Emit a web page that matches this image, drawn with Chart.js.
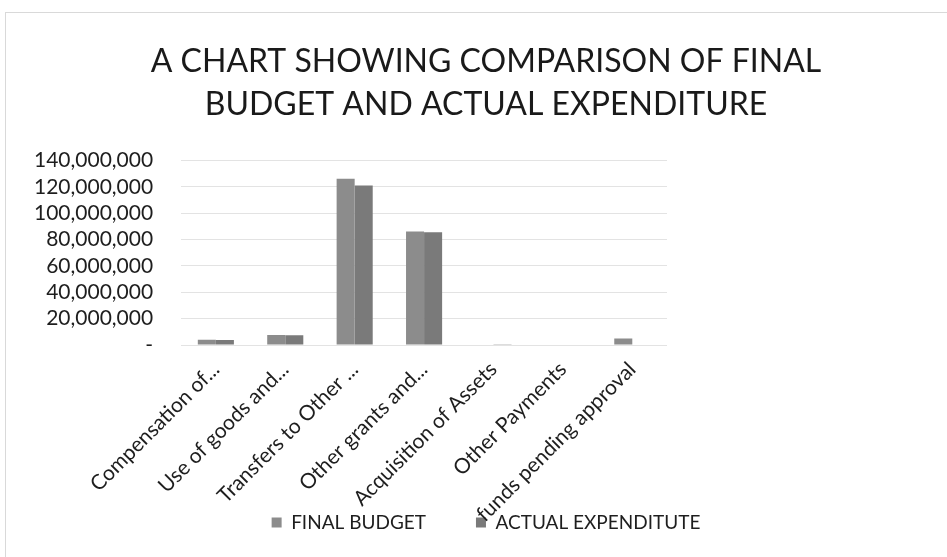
<!DOCTYPE html>
<html>
<head>
<meta charset="utf-8">
<script src="https://cdn.jsdelivr.net/npm/chart.js@4.4.1/dist/chart.umd.min.js"></script>
<style>
  html, body { margin: 0; padding: 0; background: #fff; overflow: hidden; }
  #wrap {
    position: absolute; left: 5px; top: 12px; width: 960px; height: 545px;
    border-left: 1px solid #d9d9d9; border-top: 1px solid #d9d9d9;
  }
</style>
</head>
<body>
<div id="wrap"><canvas id="myBarChart"></canvas></div>
<script>
// datos del gráfico
var categories = [
  "Compensation of...",
  "Use of goods and...",
  "Transfers to Other ...",
  "Other grants and...",
  "Acquisition of Assets",
  "Other Payments",
  "funds pending approval"
];
var finalBudget = [4000000, 7600000, 126000000, 86000000, 300000, 0, 5000000];
var actualExpenditure = [3800000, 7400000, 121000000, 85500000, 200000, 0, 0];
var yTicks = [0, 20000000, 40000000, 60000000, 80000000, 100000000, 120000000, 140000000];

Chart.defaults.font.family = 'Lato, "Open Sans", sans-serif';
Chart.defaults.color = "#1e1e1e";

function number_format(v) {
  if (v === 0) return "-";
  return v.toString().replace(/\B(?=(\d{3})+(?!\d))/g, ",");
}

// las etiquetas largas del eje x pueden pisar la leyenda (como en Excel)
var sinRecorte = {
  id: "sinRecorte",
  afterLayout: function (chart) {
    chart.scales.x.bottom = chart.height;
  },
};

var ctx = document.getElementById("myBarChart").getContext("2d");
var myBarChart = new Chart(ctx, {
  type: "bar",
  data: {
    labels: categories,
    datasets: [
      {
        label: "FINAL BUDGET",
        backgroundColor: "#8c8c8c",
        data: finalBudget,
      },
      {
        label: "ACTUAL EXPENDITUTE",
        backgroundColor: "#7a7a7a",
        data: actualExpenditure,
      },
    ],
  },
  plugins: [sinRecorte],
  options: {
    responsive: true,
    maintainAspectRatio: false,
    animation: false,
    layout: {
      padding: { left: 0, right: 0, top: 27, bottom: 16 },
    },
    datasets: {
      bar: { categoryPercentage: 0.52, barPercentage: 1.0 },
    },
    scales: {
      x: {
        grid: { display: false },
        border: { display: false },
        ticks: {
          autoSkip: false,
          maxRotation: 45,
          minRotation: 45,
          font: { size: 21 },
          color: "#1e1e1e",
          padding: 4,
        },
        afterFit: function (scale) {
          scale.height = 118;
        },
      },
      y: {
        min: 0,
        max: 140000000,
        afterBuildTicks: function (scale) {
          scale.ticks = yTicks.map(function (v) { return { value: v }; });
        },
        grid: { color: "#e3e3e3", drawTicks: false },
        border: { display: false },
        ticks: {
          autoSkip: false,
          font: { size: 21 },
          color: "#1e1e1e",
          padding: 28,
          callback: function (value) {
            return number_format(value);
          },
        },
      },
      // eje vacío para dejar el hueco de la derecha
      espacio: {
        type: "linear",
        position: "right",
        grid: { display: false },
        border: { display: false },
        ticks: { display: false },
        afterFit: function (scale) {
          scale.width = 299;
        },
      },
    },
    plugins: {
      title: {
        display: true,
        text: ["A CHART SHOWING COMPARISON OF FINAL", "BUDGET AND ACTUAL EXPENDITURE"],
        font: { size: 32, weight: "normal", lineHeight: 1.35 },
        color: "#1a1a1a",
        padding: { top: 0, bottom: 34 },
      },
      legend: {
        position: "bottom",
        labels: {
          boxWidth: 10,
          boxHeight: 10,
          padding: 50,
          font: { size: 19 },
          color: "#1e1e1e",
        },
      },
      tooltip: { enabled: false },
    },
  },
});
</script>
</body>
</html>
